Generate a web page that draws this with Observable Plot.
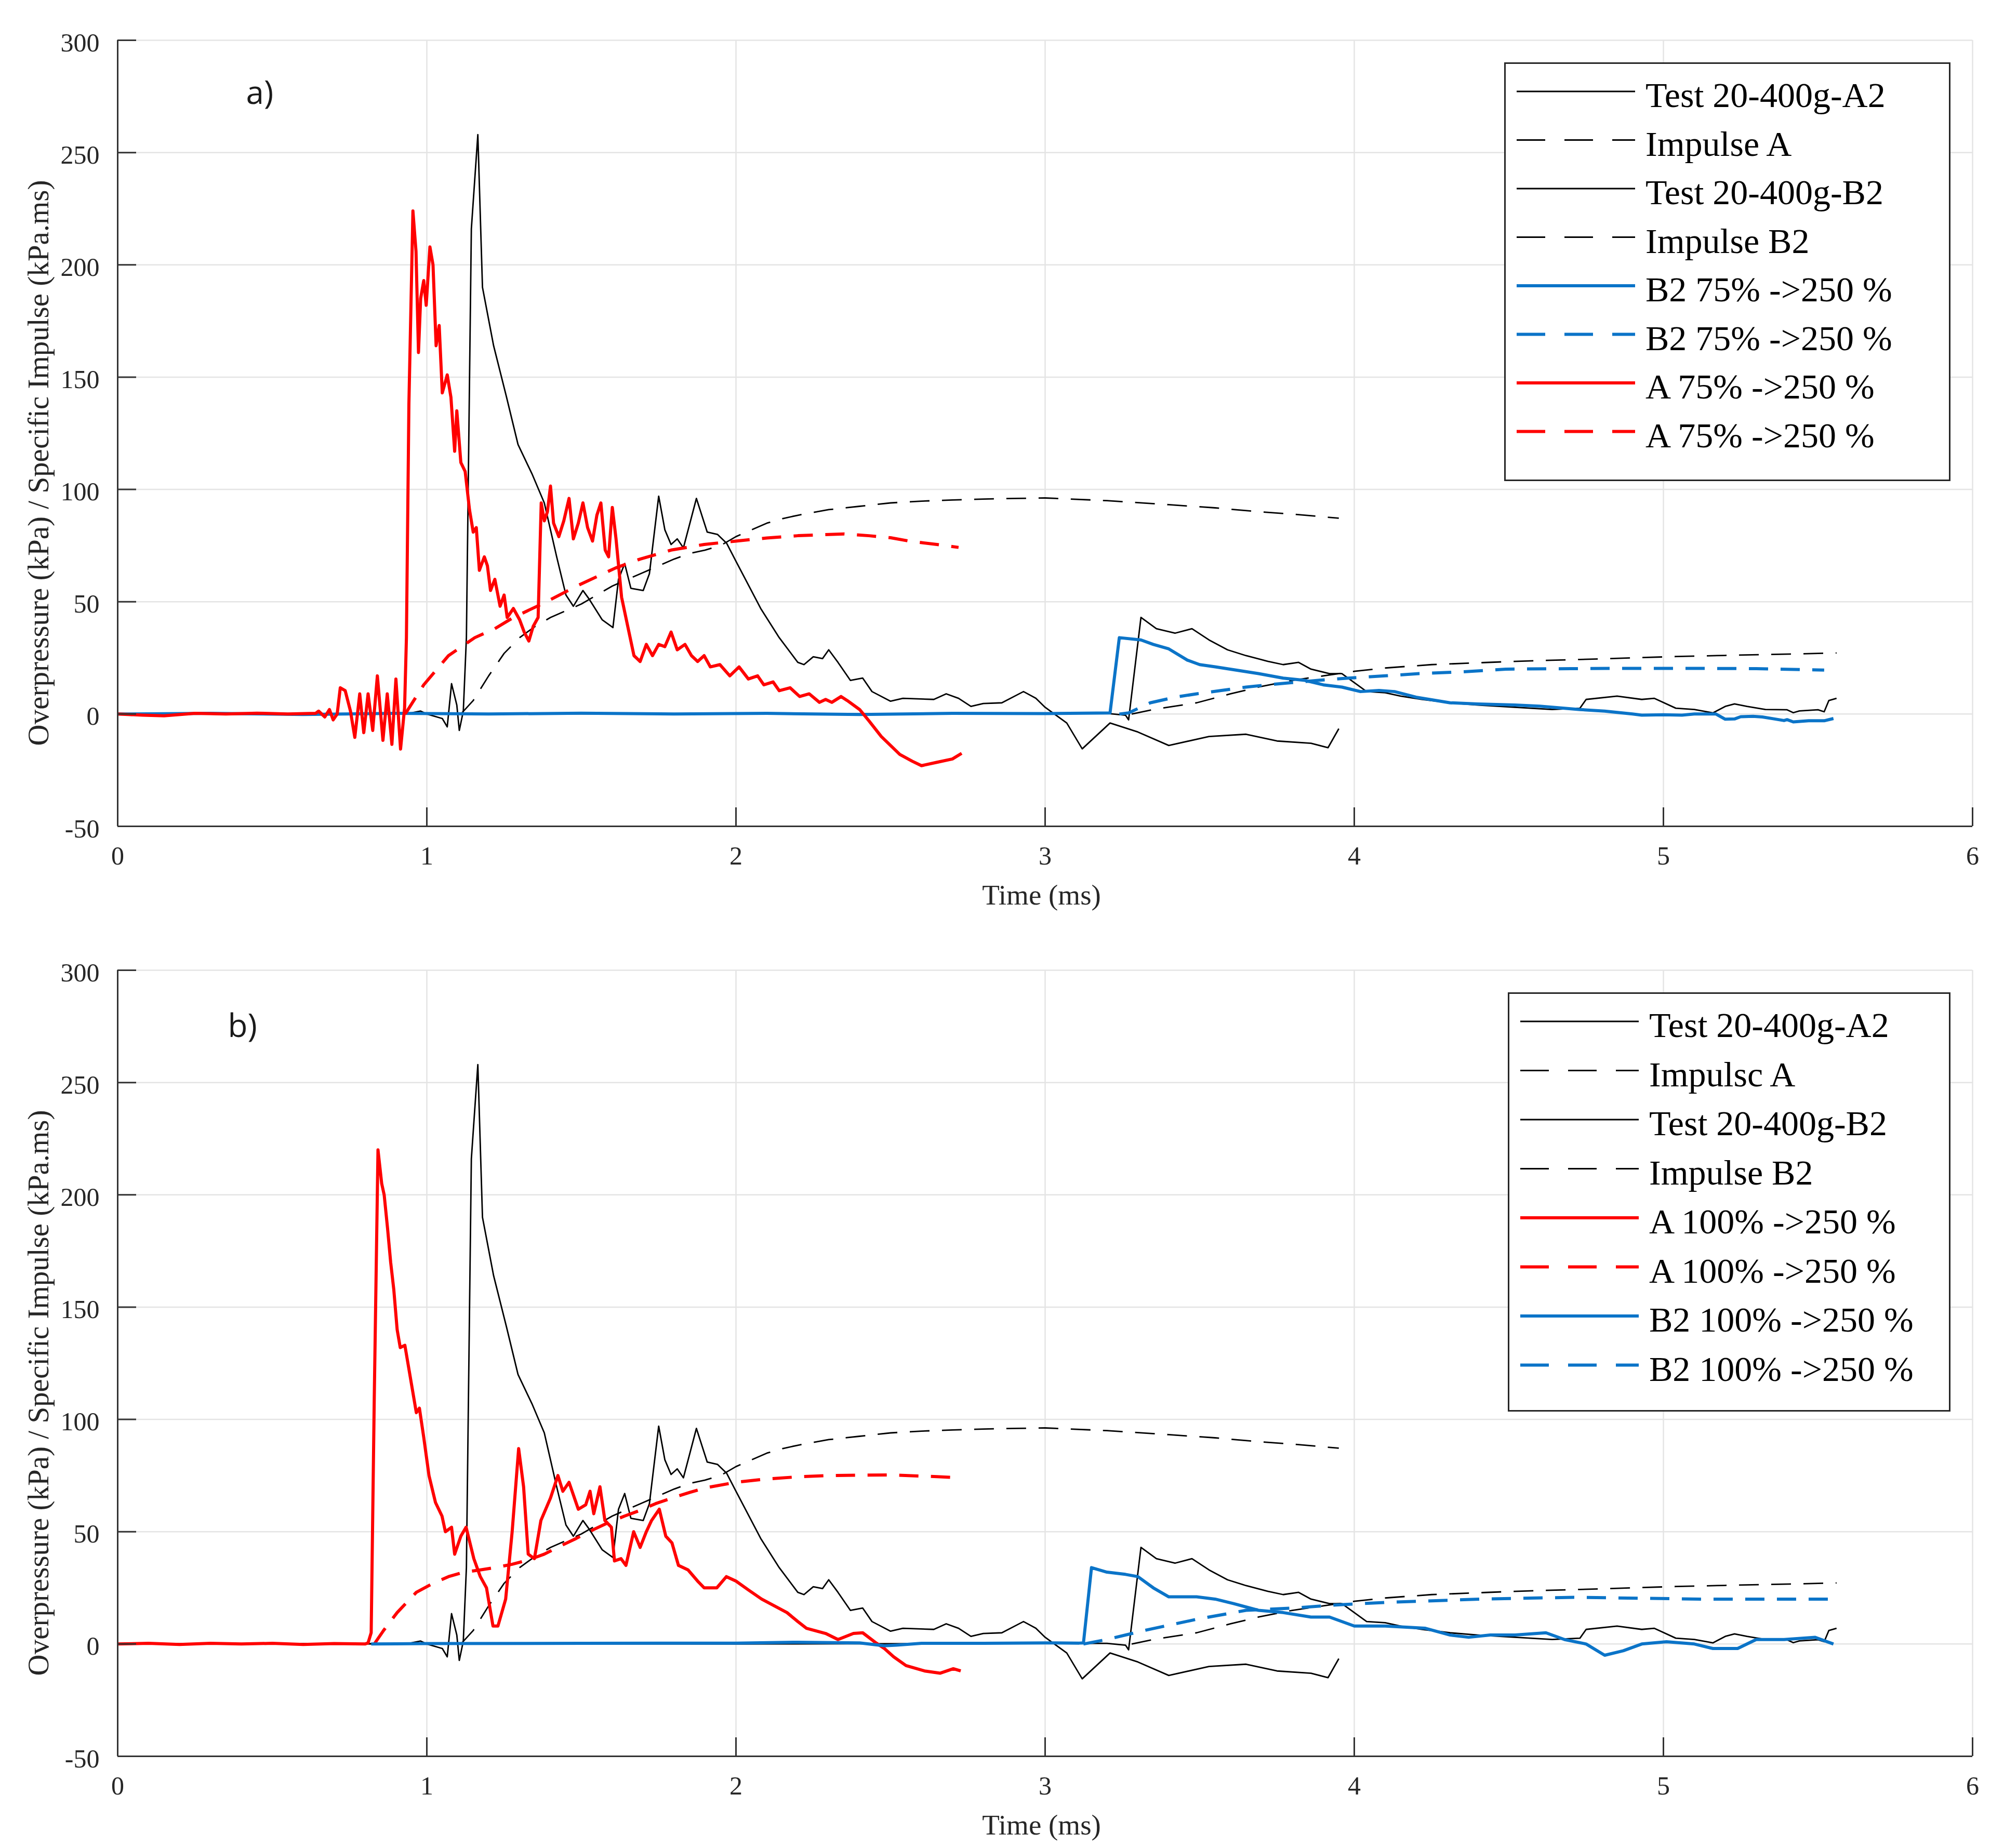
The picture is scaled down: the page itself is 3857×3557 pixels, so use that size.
<!DOCTYPE html>
<html>
<head>
<meta charset="utf-8">
<script src="https://cdn.jsdelivr.net/npm/d3@7"></script>
<script src="https://cdn.jsdelivr.net/npm/@observablehq/plot@0.6"></script>
<style>
  html, body { margin: 0; padding: 0; background: white; }
  #wrap { position: relative; width: 3857px; height: 3557px; background: white; overflow: hidden; }
  .pane { position: absolute; left: 0; }
  .pane svg text { font-family: 'Liberation Serif', 'Times New Roman', serif; }
</style>
</head>
<body>
<div id="wrap">
  <div id="paneA" class="pane" style="top:0px"></div>
  <div id="paneB" class="pane" style="top:1790px"></div>
</div>
<script>
// ---------------- DATA ----------------
const xTicks = [0, 1, 2, 3, 4, 5, 6];
const yTicks = [-50, 0, 50, 100, 150, 200, 250, 300];
const xLabel = "Time (ms)";
const yLabel = "Overpressure (kPa) / Specific Impulse (kPa.ms)";

// Test 20-400g-A2 (thin black) [time ms, kPa]
const testA2 = [[0,0],[0.5,0.2],[0.9,0],[0.95,0.5],[0.98,1.3],[1.0,0],[1.05,-2],[1.066,-5.7],[1.08,13.5],[1.097,4],[1.105,-7.3],[1.118,1.3],[1.128,34],[1.144,216],[1.165,258],[1.18,190],[1.216,164],[1.258,141],[1.295,120],[1.34,107],[1.38,94],[1.42,70],[1.45,53],[1.474,48],[1.505,55],[1.526,51],[1.567,42],[1.602,38.5],[1.62,60],[1.64,67],[1.66,56],[1.7,55],[1.72,62.5],[1.75,97],[1.77,82],[1.79,75.5],[1.81,78],[1.83,74],[1.872,96],[1.907,81],[1.94,80],[1.97,76],[2.0,68],[2.08,47],[2.14,34],[2.2,23],[2.22,22],[2.25,25.5],[2.28,24.7],[2.3,28.6],[2.33,23],[2.37,15],[2.41,16],[2.44,10],[2.5,5.7],[2.54,7],[2.64,6.5],[2.68,9],[2.72,7],[2.76,3.4],[2.8,4.7],[2.86,5],[2.93,10],[2.97,7],[3.0,3],[3.07,-4],[3.12,-15.5],[3.21,-4],[3.3,-8],[3.4,-14],[3.53,-10],[3.65,-9],[3.75,-12],[3.86,-13],[3.915,-15],[3.95,-6.5]];
// Impulse A (thin black dashed)
const impulseA = [[1.11,0],[1.15,6],[1.2,17],[1.25,27],[1.3,34],[1.35,39],[1.4,43],[1.45,46],[1.5,49],[1.55,53],[1.6,57],[1.65,60],[1.7,63],[1.75,66],[1.8,69],[1.85,71.5],[1.9,73],[1.95,75],[2.0,79],[2.05,82],[2.1,85],[2.15,87],[2.2,88.5],[2.3,91],[2.4,92.5],[2.5,94],[2.6,94.8],[2.7,95.3],[2.8,95.7],[2.9,96],[3.0,96.2],[3.07,95.8],[3.2,95],[3.4,93.2],[3.55,91.8],[3.68,90.2],[3.8,89],[3.9,87.8],[3.95,87.2]];
// Test 20-400g-B2 (thin black)
const testB2 = [[0,0],[1.0,0.2],[2.0,0],[3.0,0.3],[3.2,0.3],[3.26,-0.5],[3.27,-2.6],[3.31,43],[3.36,38],[3.42,36],[3.475,38],[3.53,33],[3.59,28.6],[3.65,26],[3.72,23.5],[3.77,22],[3.82,23],[3.86,20],[3.92,18],[3.96,18],[4.0,14],[4.04,10],[4.1,9.5],[4.15,8],[4.22,6.5],[4.31,5],[4.4,4],[4.52,3],[4.64,2],[4.73,2.6],[4.75,6.5],[4.85,8],[4.93,6.5],[4.97,7],[5.04,2.6],[5.1,2],[5.16,0.5],[5.2,3.4],[5.23,4.5],[5.27,3.4],[5.33,2],[5.4,1.9],[5.42,0.6],[5.44,1.4],[5.5,1.9],[5.52,1],[5.535,6],[5.56,7]];
// Impulse B2 (thin black dashed)
const impulseB2 = [[3.28,0],[3.35,2],[3.49,5],[3.6,9],[3.69,12],[3.8,15],[3.9,17],[4.0,19],[4.1,20.5],[4.25,22],[4.49,23.3],[4.6,23.8],[4.73,24.3],[4.9,25],[5.04,25.6],[5.2,26.1],[5.33,26.5],[5.45,26.8],[5.56,27.2]];

// Panel a: B2 75% -> 250 % (blue), A 75% -> 250 % (red)
const b2_75 = [[0,0],[0.3,0.3],[0.6,-0.2],[0.9,0.3],[1.2,0],[1.5,0.4],[1.8,0],[2.1,0.3],[2.4,-0.2],[2.7,0.3],[3.0,0.2],[3.21,0.5],[3.24,34],[3.31,33],[3.35,31],[3.4,29],[3.46,24],[3.5,22],[3.55,21],[3.62,19.5],[3.69,18],[3.77,16],[3.84,15],[3.9,13],[3.96,12],[4.02,10],[4.08,10.5],[4.13,10],[4.2,7.5],[4.31,5],[4.4,4.5],[4.52,4],[4.6,3.5],[4.73,2],[4.81,1.3],[4.9,0],[4.93,-0.5],[5.0,-0.3],[5.06,-0.5],[5.1,0],[5.17,0],[5.2,-2.3],[5.23,-2.2],[5.25,-1.2],[5.29,-1],[5.32,-1.3],[5.36,-2.2],[5.39,-2.9],[5.4,-2.5],[5.42,-3.5],[5.47,-3],[5.52,-3],[5.55,-2]];
const b2_75Imp = [[3.24,0],[3.27,0.5],[3.34,5],[3.42,7.5],[3.49,9],[3.57,10.5],[3.65,12],[3.72,13],[3.8,14],[3.9,15.2],[3.98,16],[4.1,17],[4.21,18],[4.35,18.8],[4.49,20],[4.7,20.2],[4.83,20.3],[5.0,20.3],[5.14,20.3],[5.3,20.2],[5.45,19.8],[5.52,19.6]];
const a_75 = [[0,0],[0.08,-0.5],[0.15,-0.8],[0.25,0.3],[0.35,0],[0.45,0.4],[0.55,0],[0.64,0.3],[0.65,1.3],[0.67,-1.3],[0.685,2],[0.697,-2.6],[0.71,0],[0.72,11.7],[0.736,10.4],[0.753,1.3],[0.767,-10.4],[0.783,9],[0.796,-8.3],[0.81,9],[0.825,-7.3],[0.84,17],[0.858,-11.7],[0.872,9],[0.887,-13.5],[0.9,15.6],[0.915,-15.6],[0.928,2.6],[0.934,34],[0.942,138],[0.955,224],[0.965,206],[0.973,161],[0.98,185],[0.99,193],[0.998,182],[1.01,208],[1.02,200],[1.03,164],[1.04,173],[1.05,143],[1.066,151],[1.078,141],[1.09,117],[1.097,135],[1.11,112],[1.124,108],[1.138,91],[1.15,81],[1.16,83],[1.17,64],[1.186,70],[1.196,66],[1.206,55],[1.22,60],[1.237,48],[1.25,53],[1.26,43],[1.28,47],[1.3,42],[1.315,36.5],[1.33,32.5],[1.344,39],[1.36,43],[1.37,94],[1.38,86],[1.39,90],[1.4,101.5],[1.41,85],[1.427,79],[1.443,86],[1.46,96],[1.474,78],[1.49,85],[1.505,94],[1.52,83],[1.536,77],[1.55,88.5],[1.563,94],[1.577,73],[1.588,70],[1.6,92],[1.612,78],[1.63,52],[1.65,39],[1.67,26],[1.69,23.4],[1.71,31],[1.73,26],[1.75,31],[1.77,30],[1.79,36.5],[1.81,28.6],[1.835,31],[1.856,26],[1.876,23.4],[1.897,26],[1.917,21],[1.948,22],[1.98,17],[2.01,21],[2.04,15.6],[2.07,17],[2.09,13],[2.12,14.3],[2.14,10.4],[2.175,11.7],[2.206,7.8],[2.237,9],[2.27,5.2],[2.29,6.5],[2.31,5.2],[2.34,7.8],[2.36,6],[2.4,2],[2.43,-3],[2.47,-10],[2.5,-14],[2.53,-18],[2.57,-21],[2.6,-23],[2.65,-21.5],[2.7,-20],[2.73,-17.5]];
const a_75Imp = [[0.93,0],[0.99,13],[1.07,26],[1.155,34],[1.22,38],[1.28,43],[1.38,49.5],[1.485,57],[1.61,65],[1.69,69],[1.79,73],[1.897,75.5],[2.0,77],[2.1,78.4],[2.2,79.4],[2.35,80.2],[2.43,79.4],[2.5,78.5],[2.56,77],[2.65,75.5],[2.72,74.2]];

// Panel b: A 100% -> 250 % (red), B2 100% -> 250 % (blue)
const a_100 = [[0,0],[0.1,0.3],[0.2,-0.2],[0.3,0.3],[0.4,0],[0.5,0.3],[0.6,-0.2],[0.7,0.2],[0.8,0],[0.81,0.5],[0.82,5],[0.83,110],[0.842,220],[0.854,205],[0.862,200],[0.873,185],[0.883,170],[0.893,158],[0.904,140],[0.914,132],[0.929,133],[0.945,120],[0.966,103],[0.976,105],[0.99,92],[1.007,75],[1.028,63],[1.049,57],[1.06,50],[1.08,52],[1.09,40],[1.11,48],[1.127,52],[1.152,38],[1.173,30],[1.193,25],[1.214,8],[1.23,8],[1.255,20],[1.276,50],[1.297,87],[1.313,70],[1.328,40],[1.348,38],[1.369,55],[1.4,65],[1.424,75],[1.44,68],[1.46,72],[1.49,60],[1.514,62],[1.528,68],[1.54,58],[1.56,70],[1.576,55],[1.597,52],[1.607,37],[1.628,38],[1.644,35],[1.669,50],[1.69,43],[1.71,50],[1.727,55],[1.752,60],[1.773,48],[1.793,45],[1.814,35],[1.845,33],[1.876,28],[1.897,25],[1.938,25],[1.969,30],[2.0,28],[2.041,24],[2.083,20],[2.124,17],[2.165,14],[2.2,10],[2.228,7],[2.29,4.7],[2.33,2],[2.38,4.7],[2.41,5],[2.45,0.8],[2.48,-2],[2.51,-5.7],[2.55,-9.6],[2.61,-12],[2.66,-13],[2.703,-11],[2.727,-12]];
const a_100Imp = [[0.83,0],[0.86,6],[0.904,14],[0.966,23],[1.02,27],[1.07,30],[1.12,32],[1.173,33],[1.22,34],[1.276,35.5],[1.33,37.5],[1.38,40],[1.43,43.5],[1.483,47],[1.54,51],[1.586,54],[1.64,57],[1.69,59.5],[1.74,62.5],[1.793,65],[1.85,67.5],[1.9,69.5],[2.0,72],[2.1,73.5],[2.207,74.5],[2.3,75],[2.41,75.2],[2.5,75.3],[2.558,75],[2.65,74.5],[2.727,74]];
const b2_100 = [[0.82,0],[1.0,0.2],[1.5,0.3],[2.0,0.4],[2.2,0.8],[2.4,0.5],[2.48,-0.8],[2.52,-0.5],[2.6,0.3],[2.8,0.3],[3.0,0.5],[3.11,0.4],[3.124,0.5],[3.15,34],[3.2,32],[3.26,31],[3.3,30],[3.35,25],[3.4,21],[3.49,21],[3.55,20],[3.61,18],[3.69,15],[3.77,14],[3.86,12],[3.92,12],[4.0,8],[4.1,8],[4.23,7],[4.31,4],[4.37,3],[4.44,4],[4.52,4],[4.62,5],[4.68,2],[4.75,0],[4.81,-5],[4.87,-3],[4.93,0],[5.01,1],[5.1,0],[5.16,-2],[5.24,-2],[5.3,2],[5.39,2],[5.49,3],[5.55,0]];
const b2_100Imp = [[3.124,0],[3.2,2],[3.32,6],[3.49,11],[3.65,15],[3.8,16],[3.94,17.4],[4.1,18.5],[4.41,20],[4.71,20.8],[5.12,20],[5.55,20]];

const legendA = ["Test 20-400g-A2", "Impulse A", "Test 20-400g-B2", "Impulse B2", "B2 75% ->250 %", "B2 75% ->250 %", "A 75% ->250 %", "A 75% ->250 %"];
const legendB = ["Test 20-400g-A2", "Impulsc A", "Test 20-400g-B2", "Impulse B2", "A 100% ->250 %", "A 100% ->250 %", "B2 100% ->250 %", "B2 100% ->250 %"];

// ---------------- STYLE ----------------
const RED = "#ff0000", BLUE = "#0b74c8", BLACK = "#000000";
const thin = {stroke: BLACK, width: 2.8, dash: null};
const thinDash = {stroke: BLACK, width: 2.8, dash: "38,24"};
const fat = c => ({stroke: c, width: 6, dash: null});
const fatDash = c => ({stroke: c, width: 6, dash: "37,24"});
const SERIF = "'Liberation Serif', 'Times New Roman', serif";
const fmt = d => String(d);

function lineMark(data, s) {
  return Plot.line(data, {x: d => d[0], y: d => d[1], stroke: s.stroke, strokeWidth: s.width,
    strokeDasharray: s.dash || undefined, strokeLinejoin: "round", strokeLinecap: "butt"});
}

function panel(series, tag, tagDx, tagDy, height) {
  const mTop = 77, mLeft = 226, mRight = 61, mBottom = height - 1590;
  const plotW = 3857 - mLeft - mRight, plotH = height - mTop - mBottom;
  return Plot.plot({
    width: 3857, height,
    marginTop: mTop, marginLeft: mLeft, marginRight: mRight, marginBottom: mBottom,
    x: {domain: [xTicks[0], xTicks[xTicks.length - 1]]},
    y: {domain: [yTicks[0], yTicks[yTicks.length - 1]]},
    style: "background:white;font-family:'Liberation Serif','Times New Roman',serif;font-size:50px;color:#262626;overflow:visible",
    marks: [
      Plot.gridX(xTicks, {stroke: "#e4e4e4", strokeOpacity: 1, strokeWidth: 2.5}),
      Plot.gridY(yTicks, {stroke: "#e4e4e4", strokeOpacity: 1, strokeWidth: 2.5}),
      Plot.axisX(xTicks, {tickSize: 0, tickPadding: 38, fontSize: 50, tickFormat: fmt, label: null}),
      Plot.axisY(yTicks, {tickSize: 0, tickPadding: 35, fontSize: 50, tickFormat: fmt, dy: 5, label: null}),
      ...series.map(([d, s]) => lineMark(d, s)),
      Plot.ruleX([xTicks[0]], {stroke: "#333", strokeWidth: 3}),
      Plot.ruleY([yTicks[0]], {stroke: "#333", strokeWidth: 3}),
      Plot.tickY(yTicks, {y: d => d, stroke: "#333", strokeWidth: 3, insetRight: plotW - 36}),
      Plot.tickX(xTicks, {x: d => d, stroke: "#333", strokeWidth: 3, insetTop: plotH - 36}),
      Plot.text([xLabel], {frameAnchor: "bottom", textAnchor: "middle", lineAnchor: "bottom", dx: -7, dy: 150, fontSize: 55, fill: "#262626"}),
      Plot.text([yLabel], {frameAnchor: "left", textAnchor: "middle", lineAnchor: "middle", rotate: -90, dx: -152, dy: 57, fontSize: 57, fill: "#262626"}),
      Plot.text([tag], {frameAnchor: "top-left", textAnchor: "start", lineAnchor: "bottom", dx: tagDx, dy: tagDy, fontSize: 62, fill: "#1a1a1a", className: "tag"})
    ]
  });
}

function drawLegend(host, labels, styles, box) {
  const svg = d3.select(host).append("svg")
    .attr("width", box.w).attr("height", box.h)
    .style("position", "absolute").style("left", box.x + "px").style("top", box.y + "px");
  svg.append("rect").attr("x", 1.5).attr("y", 1.5).attr("width", box.w - 3).attr("height", box.h - 3)
    .attr("fill", "white").attr("stroke", "#262626").attr("stroke-width", 3);
  labels.forEach((lab, i) => {
    const s = styles[i];
    const y = box.row0 + i * box.step;
    svg.append("line").attr("x1", 24).attr("x2", 252).attr("y1", y).attr("y2", y)
      .attr("stroke", s.stroke).attr("stroke-width", s.width)
      .attr("stroke-dasharray", s.dash ? "55,37" : null);
    svg.append("text").attr("x", 272).attr("y", y + 30).text(lab)
      .attr("font-size", 68).attr("fill", "#000");
  });
}

const stylesA = [thin, thinDash, thin, thinDash, fat(BLUE), fatDash(BLUE), fat(RED), fatDash(RED)];
const stylesB = [thin, thinDash, thin, thinDash, fat(RED), fatDash(RED), fat(BLUE), fatDash(BLUE)];

const seriesA = [[testA2, stylesA[0]], [impulseA, stylesA[1]], [testB2, stylesA[2]], [impulseB2, stylesA[3]],
                 [b2_75, stylesA[4]], [b2_75Imp, stylesA[5]], [a_75, stylesA[6]], [a_75Imp, stylesA[7]]];
const seriesB = [[testA2, stylesB[0]], [impulseA, stylesB[1]], [testB2, stylesB[2]], [impulseB2, stylesB[3]],
                 [a_100, stylesB[4]], [a_100Imp, stylesB[5]], [b2_100, stylesB[6]], [b2_100Imp, stylesB[7]]];

const hostA = document.getElementById("paneA");
const hostB = document.getElementById("paneB");
hostA.appendChild(panel(seriesA, "a)", 247, 122, 1790));
hostB.appendChild(panel(seriesB, "b)", 212, 128, 1767));
// panel tags use a sans face like the original
d3.selectAll(".tag text").style("font-family", "'Open Sans', 'DejaVu Sans', sans-serif");
drawLegend(hostA, legendA, stylesA, {x: 2895, y: 120, w: 859, h: 806, row0: 56, step: 93.5});
drawLegend(hostB, legendB, stylesB, {x: 2902, y: 120, w: 852, h: 807, row0: 56, step: 94.5});
</script>
</body>
</html>
